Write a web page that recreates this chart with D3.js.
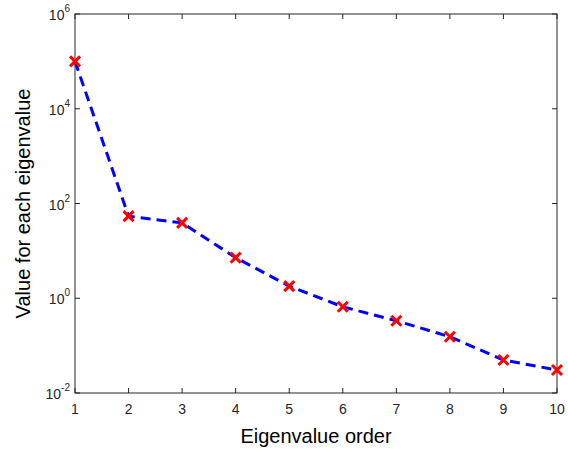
<!DOCTYPE html>
<html>
<head>
<meta charset="utf-8">
<script src="https://cdn.jsdelivr.net/npm/d3@7"></script>
<style>
  body { margin: 0; background: #fff; }
  text { font-family: "Liberation Sans", Arial, sans-serif; }
</style>
</head>
<body>
<script>
var orders = [1, 2, 3, 4, 5, 6, 7, 8, 9, 10];
var eigenvalues = [100000, 54, 39, 7.2, 1.8, 0.66, 0.335, 0.154, 0.0497, 0.0305];
var xTicks = [1, 2, 3, 4, 5, 6, 7, 8, 9, 10];
var yTickExps = [-2, 0, 2, 4, 6];

var width = 568,
    height = 450,
    margin = {top: 14, right: 11, bottom: 57, left: 75};

var axisColor = "#262626";

var svg = d3.select("body").append("svg")
    .attr("width", width)
    .attr("height", height);

var iw = width - margin.left - margin.right,
    ih = height - margin.top - margin.bottom;

var g = svg.append("g")
    .attr("transform", "translate(" + margin.left + "," + margin.top + ")");

var x = d3.scaleLinear().domain([1, 10]).range([0, iw]);
var y = d3.scaleLog().domain([1e-2, 1e6]).range([ih, 0]);

// box
g.append("rect")
    .attr("width", iw)
    .attr("height", ih)
    .attr("fill", "none")
    .attr("stroke", axisColor)
    .attr("stroke-width", 1);

var tl = 5;

// x ticks, bottom and top, pointing inward
xTicks.forEach(function(t) {
    g.append("line").attr("x1", x(t)).attr("x2", x(t)).attr("y1", ih).attr("y2", ih - tl)
        .attr("stroke", axisColor);
    g.append("line").attr("x1", x(t)).attr("x2", x(t)).attr("y1", 0).attr("y2", tl)
        .attr("stroke", axisColor);
    g.append("text")
        .attr("x", x(t))
        .attr("y", ih + 21)
        .attr("text-anchor", "middle")
        .attr("font-size", 14)
        .attr("fill", axisColor)
        .text(t);
});

// y ticks, left and right
yTickExps.forEach(function(e) {
    var v = Math.pow(10, e);
    g.append("line").attr("x1", 0).attr("x2", tl).attr("y1", y(v)).attr("y2", y(v))
        .attr("stroke", axisColor);
    g.append("line").attr("x1", iw).attr("x2", iw - tl).attr("y1", y(v)).attr("y2", y(v))
        .attr("stroke", axisColor);
    var t = g.append("text")
        .attr("x", -5)
        .attr("y", y(v) + 6)
        .attr("text-anchor", "end")
        .attr("font-size", 14)
        .attr("fill", axisColor);
    t.append("tspan").text("10");
    t.append("tspan")
        .attr("dy", -8)
        .attr("font-size", 10)
        .text(e);
});

// line
var line = d3.line()
    .x(function(d, i) { return x(orders[i]); })
    .y(function(d) { return y(d); });

g.append("path")
    .datum(eigenvalues)
    .attr("d", line)
    .attr("fill", "none")
    .attr("stroke", "#0000ff")
    .attr("stroke-width", 3)
    .attr("stroke-dasharray", "10,6");

// x markers
var ms = 5;
g.selectAll(".mk")
    .data(eigenvalues)
  .enter().append("path")
    .attr("class", "mk")
    .attr("transform", function(d, i) { return "translate(" + x(orders[i]) + "," + y(d) + ")"; })
    .attr("d", "M" + (-ms) + "," + (-ms) + "L" + ms + "," + ms + "M" + (-ms) + "," + ms + "L" + ms + "," + (-ms))
    .attr("stroke", "#ff0000")
    .attr("stroke-width", 3)
    .attr("fill", "none");

// axis labels
svg.append("text")
    .attr("x", margin.left + iw / 2)
    .attr("y", 443)
    .attr("text-anchor", "middle")
    .attr("font-size", 20)
    .attr("fill", "#000")
    .text("Eigenvalue order");

svg.append("text")
    .attr("transform", "translate(30," + (margin.top + ih / 2) + ") rotate(-90)")
    .attr("text-anchor", "middle")
    .attr("font-size", 20)
    .attr("fill", "#000")
    .text("Value for each eigenvalue");
</script>
</body>
</html>
